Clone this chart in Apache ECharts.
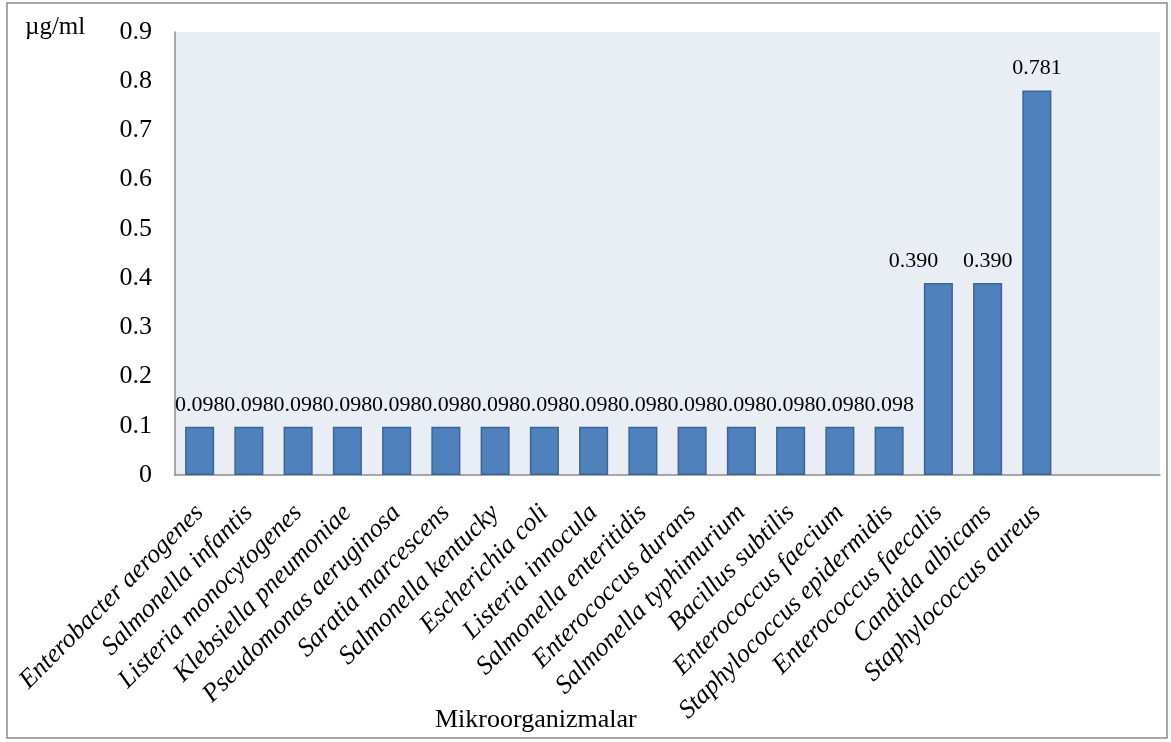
<!DOCTYPE html>
<html>
<head>
<meta charset="utf-8">
<script src="https://cdn.jsdelivr.net/npm/echarts@6/dist/echarts.min.js"></script>
<style>
  html, body { margin: 0; padding: 0; background: #ffffff; }
  #chart { width: 1171px; height: 742px; }
</style>
</head>
<body>
<div id="chart"></div>
<script>
// Microorganisms tested (x-axis categories)
const organisms = [
  'Enterobacter aerogenes',
  'Salmonella infantis',
  'Listeria monocytogenes',
  'Klebsiella pneumoniae',
  'Pseudomonas aeruginosa',
  'Saratia marcescens',
  'Salmonella kentucky',
  'Escherichia coli',
  'Listeria innocula',
  'Salmonella enteritidis',
  'Enterococcus durans',
  'Salmonella typhimurium',
  'Bacillus subtilis',
  'Enterococcus faecium',
  'Staphylococcus epidermidis',
  'Enterococcus faecalis',
  'Candida albicans',
  'Staphylococcus aureus'
];

// MIC values, µg/ml
const micValues = [
  0.098, 0.098, 0.098, 0.098, 0.098, 0.098, 0.098, 0.098, 0.098,
  0.098, 0.098, 0.098, 0.098, 0.098, 0.098, 0.390, 0.390, 0.781
];

// Two unused slots at the right end of the category axis
const trailingSlots = ['', ''];

const yTicks = [0, 0.1, 0.2, 0.3, 0.4, 0.5, 0.6, 0.7, 0.8, 0.9];

const serif = '"Liberation Serif", "Times New Roman", "DejaVu Serif", serif';
const chart = echarts.init(document.getElementById('chart'), null, { renderer: 'canvas' });

// The first of the two adjacent 0.390 labels is nudged left so the pair doesn't collide
const barData = micValues.map((v, i) => {
  if (i === 15) {
    return { value: v, label: { offset: [-25, 0] } };
  }
  return v;
});

chart.setOption({
  animation: false,
  backgroundColor: '#ffffff',
  textStyle: { fontFamily: serif, color: '#000' },
  grid: {
    left: 175, right: 11, top: 32, bottom: 267,
    show: true,
    backgroundColor: '#E9EDF4',
    borderWidth: 0
  },
  xAxis: {
    type: 'category',
    data: organisms.concat(trailingSlots),
    axisLine: { show: true, lineStyle: { color: '#8C8C8C', width: 1.5 } },
    axisTick: { show: false },
    splitLine: { show: false },
    axisLabel: {
      interval: 0,
      rotate: 45,
      margin: 34,
      fontFamily: serif,
      fontStyle: 'italic',
      fontSize: 26,
      color: '#000'
    }
  },
  yAxis: {
    type: 'value',
    min: yTicks[0],
    max: yTicks[yTicks.length - 1],
    interval: 0.1,
    axisLine: { show: true, lineStyle: { color: '#8C8C8C', width: 1.5 } },
    axisTick: { show: false },
    splitLine: { show: false },
    axisLabel: {
      margin: 23,
      fontFamily: serif,
      fontSize: 26,
      color: '#000',
      formatter: v => {
        const r = Math.round(v * 10) / 10;
        return r === 0 ? '0' : r.toFixed(1);
      }
    }
  },
  series: [{
    type: 'bar',
    data: barData,
    barCategoryGap: '41%',
    itemStyle: {
      color: '#4F81BD',
      borderColor: '#3A6596',
      borderWidth: 1.5
    },
    label: {
      show: true,
      position: 'top',
      distance: 11,
      fontFamily: serif,
      fontSize: 22,
      color: '#000',
      formatter: p => p.value.toFixed(3)
    }
  }],
  graphic: [
    {
      type: 'rect',
      shape: { x: 7, y: 3, width: 1160, height: 735 },
      style: { fill: null, stroke: '#8A8A8A', lineWidth: 1.5 },
      z: 100
    },
    {
      type: 'text',
      left: 25, top: 15,
      style: { text: 'µg/ml', font: '25px ' + serif, fill: '#000' }
    },
    {
      type: 'text',
      left: 435, top: 707,
      style: { text: 'Mikroorganizmalar', font: '26px ' + serif, fill: '#000' }
    }
  ]
});
</script>
</body>
</html>
